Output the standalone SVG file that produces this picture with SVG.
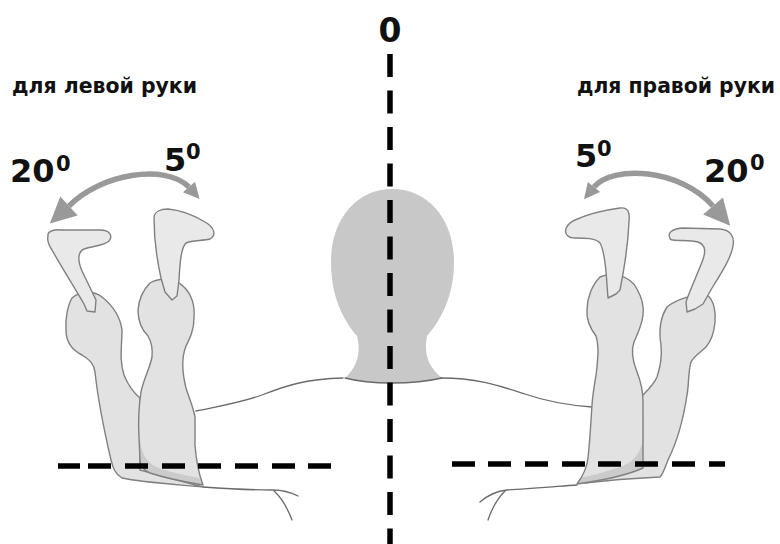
<svg xmlns="http://www.w3.org/2000/svg" xmlns:xlink="http://www.w3.org/1999/xlink" width="780" height="544" viewBox="0 0 780 544">
<style>
.skin{fill:#e2e2e2;stroke:none}
.outl{fill:none;stroke:#808080;stroke-width:1.4;stroke-linejoin:round}
.tool{fill:#e9e9e9;stroke:#808080;stroke-width:1.4;stroke-linejoin:round}
.shade{fill:#cbcbcb;stroke:none}
.line{fill:none;stroke:#6a6a6a;stroke-width:1.3;stroke-linecap:round}
.dash{fill:none;stroke:#000;stroke-width:5.5}
.arc{fill:none;stroke:#999;stroke-width:5.5}
.ah{fill:#999}
.lbl{font-family:"DejaVu Sans","Noto Sans",sans-serif;font-weight:bold;font-size:21px;fill:#111}
.num{font-family:"DejaVu Sans","Noto Sans",sans-serif;font-weight:bold;fill:#111}
</style>
<defs>
<path id="armA" d="M72 298 C80 291 93 290 102 297 C112 305 120 315 122 330 C122 345 119 360 124 375 C128 385 134 393 140 398 L140 470 L203 487 C170 484 140 482 122 478 C115 474 113 468 111 460 C104 430 98 400 95 372 C94 364 90 360 82 355 C72 350 66 342 66 330 C65 318 68 305 72 298 Z"/>
<path id="armB" d="M150 283 C158 278 175 277 184 287 C192 295 195 305 194 318 C194 330 190 338 186 346 C182 356 182 372 186 388 C189 398 193 406 195 417 L195 445 C196 458 198 472 203 485 C185 482 165 478 150 473 C143 470 140 466 140 460 L139 437 C138 420 139 405 141 392 C144 378 150 368 152 357 C153 348 152 343 148 336 C142 330 138 320 138 310 C139 298 144 289 150 283 Z"/>
<path id="armD" d="M667 307 C675 300 695 293 707 295 C714 300 716 312 715 322 C714 333 712 340 706 347 C700 353 694 356 691 362 C688 372 689 385 687 395 C684 415 678 440 668 460 C665 468 663 474 660 477 C640 478 610 480 585 483 L630 420 L643 395 C650 388 655 382 657 377 C661 365 662 355 661 345 C659 333 660 318 667 307 Z"/>
<path id="armC" d="M600 277 C612 272 630 275 637 289 C642 298 644 308 643 315 C642 325 638 333 634 342 C631 350 633 362 637 372 C641 382 643 392 643 402 L643 468 C630 474 605 480 577 484 C583 476 587 467 588 458 C590 440 591 420 592 405 C593 390 596 378 597 367 C598 355 599 345 596 336 C590 328 586 320 587 310 C587 298 592 285 600 277 Z"/>
</defs>

<g id="head">
<path d="M345 378 C358 366 361 352 357 336 C343 320 331 296 331 262 C331 220 356 189 392 189 C429 189 454 220 454 262 C454 296 441 320 427 336 C424 352 427 366 442 378 C425 382 410 383 392 383 C375 383 360 382 345 378 Z" fill="#c8c8c8"/>
<path d="M345 378 C360 382 375 383 392 383 C410 383 425 382 442 378" class="line" stroke="#8a8a8a"/>
</g>

<g id="torso">
<path class="line" d="M343 378 C305 379 285 386 262 395 C240 403 220 406 196 411"/>
<path class="line" d="M441 378 C478 378 500 386 525 394 C545 401 565 405 592 407"/>
<path class="line" d="M203 487 C230 489 255 490 273 490 C282 490 290 492 298 496"/>
<path class="line" d="M274 491 C281 497 287 507 292 520"/>
<path class="line" d="M577 485 C550 487 525 489 507 490 C497 491 488 495 480 502"/>
<path class="line" d="M505 491 C498 498 492 508 488 520"/>
</g>

<g id="left-hand-20">
<use xlink:href="#armA" class="skin"/>
<use xlink:href="#armA" class="outl"/>
<path class="tool" d="M48 236 C47 231 55 229 62 230 L100 230 C110 230 113 236 109 241 C104 246 92 246 84 249 C77 252 78 262 82 271 L96 300 L95 312 L87 311 L84 304 C75 288 62 268 52 250 C48 244 47 240 48 236 Z"/>
</g>

<g id="left-hand-5">
<use xlink:href="#armB" class="skin"/>
<path class="shade" d="M140 440 C142 458 150 466 165 470 C178 474 190 476 199 478 L203 485 C185 482 165 478 150 473 C143 470 140 466 140 460 Z"/>
<use xlink:href="#armB" class="outl"/>
<path class="tool" d="M154 218 C154 212 160 209 168 209 C180 210 195 216 205 222 C214 227 217 235 210 239 C202 241 192 240 186 243 C181 248 180 262 179 280 L177 296 L172 300 L165 292 L161 278 C157 260 154 240 154 218 Z"/>
</g>

<g id="right-hand-20">
<use xlink:href="#armD" class="skin"/>
<use xlink:href="#armD" class="outl"/>
<path class="tool" d="M670 238 C667 233 672 229 682 228 L720 229 C730 230 735 236 733 246 C731 258 722 272 712 288 L703 304 L695 309 L687 312 L686 302 C690 290 697 275 702 262 C706 252 706 245 698 242 C690 240 680 241 673 240 C671 240 670 239 670 238 Z"/>
</g>

<g id="right-hand-5">
<use xlink:href="#armC" class="skin"/>
<path class="shade" d="M643 440 C640 455 632 463 620 467 C608 471 595 475 580 478 L577 484 C605 480 630 474 643 468 Z"/>
<use xlink:href="#armC" class="outl"/>
<path class="tool" d="M568 236 C563 232 566 224 575 220 C588 214 605 210 620 208 C628 207 630 212 629 222 C628 245 624 270 620 290 L616 294 L608 298 L607 285 C606 268 604 250 600 243 C596 238 585 238 575 238 C571 238 569 237 568 236 Z"/>
</g>

<g id="connectors">
<path class="dash" d="M390 54 V544" stroke-dasharray="23 13.5"/>
<path class="dash" d="M58 466H80 M88 466H111 M125 466H148 M162 466H185 M198 466H221 M235 466H258 M272 466H295 M308 466H331"/>
<path class="dash" d="M452 464H475 M488 464H511 M525 464H548 M562 464H585 M598 464H621 M635 464H658 M672 464H695 M709 464H725"/>
<path class="arc" d="M69 206 C100 174 165 163 189 187"/>
<polygon class="ah" points="49.8,223.4 77.7,215.6 60.3,196.4"/>
<polygon class="ah" points="199.6,199 195,181.7 183,192.3"/>
<path class="arc" d="M594 187 C612 165 680 168 713 206"/>
<polygon class="ah" points="584,199.3 600.2,192 587.8,182"/>
<polygon class="ah" points="730.2,225.8 722.9,197.4 703.1,214.6"/>
</g>

<g id="labels">
<text class="lbl" x="12" y="93" textLength="185" lengthAdjust="spacingAndGlyphs">для левой руки</text>
<text class="lbl" x="577" y="93" textLength="198" lengthAdjust="spacingAndGlyphs">для правой руки</text>
<text class="num" x="390" y="42" text-anchor="middle" font-size="33">0</text>
<text class="num" x="10" y="182" font-size="32">20</text>
<text class="num" x="56" y="171" font-size="21">0</text>
<text class="num" x="164" y="171" font-size="32">5</text>
<text class="num" x="186" y="159" font-size="21">0</text>
<text class="num" x="575" y="167" font-size="32">5</text>
<text class="num" x="597" y="156" font-size="21">0</text>
<text class="num" x="704" y="182" font-size="32">20</text>
<text class="num" x="750" y="170" font-size="21">0</text>
</g>
</svg>
